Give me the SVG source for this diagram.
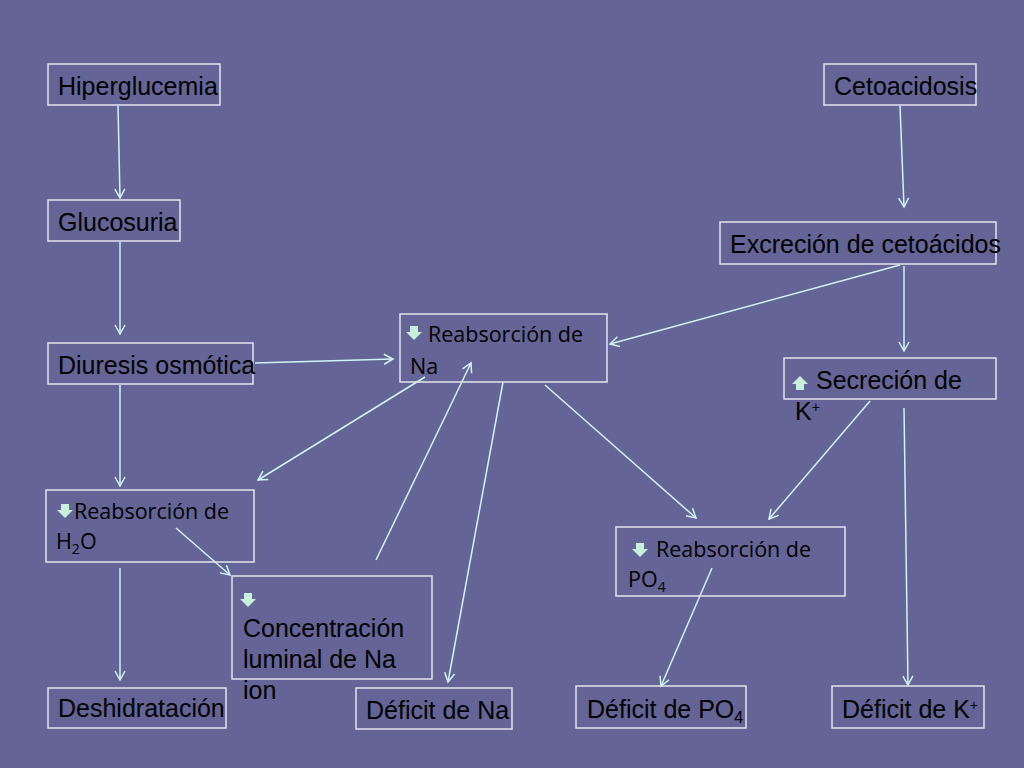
<svg xmlns="http://www.w3.org/2000/svg" width="1024" height="768" viewBox="0 0 1024 768">
<style>
.b{fill:none;stroke:#e4e4f0;stroke-width:1.5}
.t{font-family:"Liberation Sans",Arimo,Arial,Helvetica,sans-serif;font-size:25px;fill:#000}
.c{font-family:"Open Sans","Noto Sans",sans-serif;font-size:21.5px;fill:#000}
.l{stroke:#d0f4f4;stroke-width:1.5;fill:none;marker-end:url(#a)}
.ic{fill:#c8eedc}
</style>
<defs>
<marker id="a" markerWidth="12" markerHeight="12" refX="10" refY="6" orient="auto" markerUnits="userSpaceOnUse">
<path d="M1,1 L10,6 L1,11" fill="none" stroke="#d0f4f4" stroke-width="1.5"/>
</marker>
<path id="dn" class="ic" d="M-4,-7 h8 v6 h4 l-8,8 l-8,-8 h4z"/>
<path id="up" class="ic" d="M-4,7 h8 v-6 h4 l-8,-8 l-8,8 h4z"/>
</defs>
<rect width="1024" height="768" fill="#646496"/>
<g id="connectors">
<line class="l" x1="118" y1="106" x2="120" y2="198"/>
<line class="l" x1="120" y1="242" x2="120" y2="334"/>
<line class="l" x1="255" y1="363" x2="393" y2="359"/>
<line class="l" x1="120" y1="385" x2="120" y2="486"/>
<line class="l" x1="120" y1="568" x2="120" y2="680"/>
<line class="l" x1="176" y1="528" x2="230" y2="575"/>
<line class="l" x1="425" y1="377" x2="258" y2="480"/>
<line class="l" x1="376" y1="560" x2="471" y2="363"/>
<line class="l" x1="503" y1="382" x2="448" y2="682"/>
<line class="l" x1="545" y1="385" x2="696" y2="518"/>
<line class="l" x1="900" y1="265" x2="610" y2="344"/>
<line class="l" x1="900" y1="106" x2="904" y2="207"/>
<line class="l" x1="904" y1="266" x2="904" y2="351"/>
<line class="l" x1="870" y1="401" x2="769" y2="519"/>
<line class="l" x1="904" y1="408" x2="908" y2="685"/>
<line class="l" x1="712" y1="568" x2="661" y2="686"/>
</g>
<g id="n1"><rect class="b" x="48" y="64" width="172" height="41"/><text class="t" x="58" y="95">Hiperglucemia</text></g>
<g id="n2"><rect class="b" x="48" y="200" width="132" height="41"/><text class="t" x="58" y="231">Glucosuria</text></g>
<g id="n3"><rect class="b" x="48" y="343" width="205" height="41"/><text class="t" x="58" y="374">Diuresis osmótica</text></g>
<g id="n4"><rect class="b" x="46" y="490" width="208" height="72"/><use href="#dn" x="65" y="511"/><text class="c" x="74" y="519">Reabsorción de</text><text class="c" x="56" y="549">H<tspan font-size="14" dy="5">2</tspan><tspan dy="-5">O</tspan></text></g>
<g id="n5"><rect class="b" x="48" y="688" width="178" height="40"/><text class="t" x="58" y="717">Deshidratación</text></g>
<g id="n6"><rect class="b" x="400" y="314" width="207" height="68"/><use href="#dn" x="414" y="333"/><text class="c" x="428" y="342">Reabsorción de</text><text class="c" x="410" y="374">Na</text></g>
<g id="n7"><rect class="b" x="232" y="576" width="200" height="103"/><use href="#dn" x="248" y="600"/><text class="t" x="243" y="637">Concentración</text><text class="t" x="243" y="668">luminal de Na</text><text class="t" x="243" y="699">ion</text></g>
<g id="n8"><rect class="b" x="356" y="688" width="156" height="41"/><text class="t" x="366" y="719">Déficit de Na</text></g>
<g id="n9"><rect class="b" x="824" y="64" width="152" height="41"/><text class="t" x="834" y="95">Cetoacidosis</text></g>
<g id="n10"><rect class="b" x="720" y="222" width="276" height="42"/><text class="t" x="730" y="253">Excreción de cetoácidos</text></g>
<g id="n11"><rect class="b" x="784" y="358" width="212" height="41"/><use href="#up" x="800" y="383"/><text class="t" x="816" y="389">Secreción de</text><text class="t" x="795" y="420">K<tspan font-size="14" dy="-8">+</tspan></text></g>
<g id="n12"><rect class="b" x="616" y="527" width="229" height="69"/><use href="#dn" x="640" y="550"/><text class="c" x="656" y="557">Reabsorción de</text><text class="c" x="628" y="587">PO<tspan font-size="14" dy="5">4</tspan></text></g>
<g id="n13"><rect class="b" x="576" y="686" width="170" height="42"/><text class="t" x="587" y="718">Déficit de PO<tspan font-size="16" dy="5">4</tspan></text></g>
<g id="n14"><rect class="b" x="832" y="686" width="152" height="42"/><text class="t" x="842" y="718">Déficit de K<tspan font-size="14" dy="-8">+</tspan></text></g>
</svg>
